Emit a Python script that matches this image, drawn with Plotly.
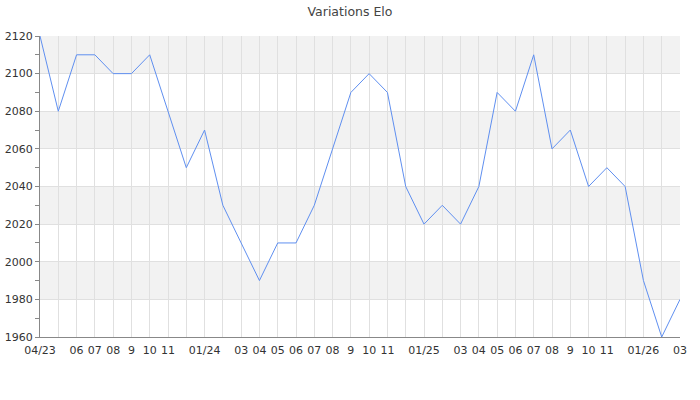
import plotly.graph_objects as go

months = ["04/23","05","06","07","08","9","10","11","12","01/24","02","03","04","05","06","07","08","9","10","11","12",
          "01/25","02","03","04","05","06","07","08","9","10","11","12","01/26","02","03"]
elo = [2120,2080,2110,2110,2100,2100,2110,2080,2050,2070,2030,2010,1990,2010,2010,2030,2060,2090,2100,2090,2040,
       2020,2030,2020,2040,2090,2080,2110,2060,2070,2040,2050,2040,1990,1960,1980]
tick_text = []
for i, m in enumerate(months):
    if m in ("12", "02") or i == 1:
        tick_text.append("")
    else:
        tick_text.append(m)

x = list(range(len(months)))

fig = go.Figure()
fig.add_trace(go.Scatter(x=x, y=elo, mode="lines", line=dict(color="#5f8ff0", width=1), hoverinfo="y"))

bands = [(1980, 2000), (2020, 2040), (2060, 2080), (2100, 2120)]
for lo, hi in bands:
    fig.add_shape(type="rect", xref="paper", yref="y", x0=0, x1=1, y0=lo, y1=hi,
                  fillcolor="#f2f2f2", line=dict(width=0), layer="below")

fig.update_layout(
    width=700, height=400,
    margin=dict(l=40, r=20, t=36, b=63),
    plot_bgcolor="white", paper_bgcolor="white",
    font=dict(family="DejaVu Sans", size=11, color="#333"),
    title=dict(text="Variations Elo", x=0.5, xanchor="center", y=0.97, yanchor="middle",
               font=dict(size=12.5, color="#444")),
    showlegend=False,
    xaxis=dict(range=[0, 35], tickmode="array", tickvals=x, ticktext=tick_text, tickangle=0,
               automargin=False, ticklabelstandoff=3,
               showgrid=True, gridcolor="#e0e0e0", gridwidth=1, zeroline=False,
               showline=True, linecolor="#888", linewidth=1, ticks="", ticklen=0),
    yaxis=dict(range=[1960, 2120], dtick=20, tick0=1960, showgrid=True, gridcolor="#e0e0e0",
               automargin=False,
               zeroline=False, showline=True, linecolor="#888", linewidth=1,
               ticks="outside", ticklen=4, tickcolor="#888",
               minor=dict(dtick=10, ticks="outside", ticklen=4, tickcolor="#888", showgrid=False)),
)
fig.write_html("out.html", config={"displayModeBar": False},
               post_script="document.body.style.margin='0';")
